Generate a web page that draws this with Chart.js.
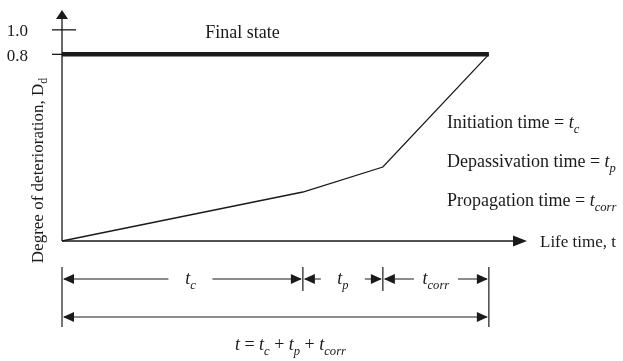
<!DOCTYPE html>
<html lang="en">
<head>
    <meta charset="UTF-8">
    <title>Degree of deterioration vs life time</title>
    <script src="https://cdn.jsdelivr.net/npm/chart.js"></script>
    <style>
        body { margin: 0; background: #fff; }
        canvas { display: block; }
    </style>
</head>
<body>
    <canvas id="life-chart" width="623" height="361"></canvas>

    <script>
        // values (x in arbitrary time units, axis tip = 100)
        const lifeTime = [0, 51.8, 69.0, 91.8];
        const degradation = [0, 0.21, 0.317, 0.8];
        const finalStateLevel = 0.8;
        const phaseBounds = [0, 51.8, 69.0, 91.8];   // t_c | t_p | t_corr
        const phaseSubs = ['c', 'p', 'corr'];
        const yTickValues = [0.8, 0.905];
        const yTickLabels = ['0.8', '1.0'];
        const legendLines = [
            ['Initiation time = ', 'c'],
            ['Depassivation time = ', 'p'],
            ['Propagation time = ', 'corr']
        ];

        const FONT = '"Liberation Serif", "DejaVu Serif", serif';
        const INK = '#1a1a1a';

        // draw text made of pieces: {s, italic, sub}
        function richText(ctx, parts, x, y, size, align) {
            let w = 0;
            parts.forEach(p => {
                ctx.font = (p.italic ? 'italic ' : '') + (p.sub ? size * 0.7 : size) + 'px ' + FONT;
                p.w = ctx.measureText(p.s).width;
                w += p.w;
            });
            let cx = align === 'center' ? x - w / 2 : x;
            ctx.textAlign = 'left';
            ctx.textBaseline = 'alphabetic';
            parts.forEach(p => {
                ctx.font = (p.italic ? 'italic ' : '') + (p.sub ? size * 0.7 : size) + 'px ' + FONT;
                ctx.fillText(p.s, cx, y + (p.sub ? size * 0.25 : 0));
                cx += p.w;
            });
        }

        function tSub(sub) {
            return [{ s: 't', italic: true }, { s: sub, italic: true, sub: true }];
        }

        function arrowHead(ctx, x, y, dir, len, half) {
            // dir: 'l','r','u'
            ctx.beginPath();
            if (dir === 'r') { ctx.moveTo(x, y); ctx.lineTo(x - len, y - half); ctx.lineTo(x - len, y + half); }
            if (dir === 'l') { ctx.moveTo(x, y); ctx.lineTo(x + len, y - half); ctx.lineTo(x + len, y + half); }
            if (dir === 'u') { ctx.moveTo(x, y); ctx.lineTo(x - half, y + len); ctx.lineTo(x + half, y + len); }
            ctx.closePath();
            ctx.fill();
        }

        const schematic = {
            id: 'schematic',
            afterDatasetsDraw(chart) {
                const ctx = chart.ctx;
                const xs = chart.scales.x, ys = chart.scales.y;
                const area = chart.chartArea;
                const x0 = xs.getPixelForValue(0), y0 = ys.getPixelForValue(0);
                ctx.save();
                ctx.strokeStyle = INK;
                ctx.fillStyle = INK;
                ctx.lineWidth = 1.3;

                // axes with arrows
                ctx.beginPath();
                ctx.moveTo(x0, y0); ctx.lineTo(x0, area.top + 6);
                ctx.moveTo(x0, y0); ctx.lineTo(area.right - 6, y0);
                ctx.stroke();
                arrowHead(ctx, x0, area.top, 'u', 9, 6);
                arrowHead(ctx, area.right, y0, 'r', 14, 5.5);

                // y ticks and labels
                yTickValues.forEach((v, i) => {
                    const py = ys.getPixelForValue(v);
                    ctx.beginPath();
                    ctx.moveTo(x0 - 10, py);
                    ctx.lineTo(i === 0 ? x0 : x0 + 14, py);
                    ctx.stroke();
                    ctx.font = '17px ' + FONT;
                    ctx.textAlign = 'right';
                    ctx.textBaseline = 'middle';
                    ctx.fillText(yTickLabels[i], 28, py + 2);
                });

                // y axis title
                ctx.save();
                ctx.translate(43, (area.top + y0) / 2 + 45);
                ctx.rotate(-Math.PI / 2);
                richText(ctx, [{ s: 'Degree of deterioration, D' }, { s: 'd', sub: true }], 0, 0, 17, 'center');
                ctx.restore();

                // labels
                richText(ctx, [{ s: 'Final state' }], xs.getPixelForValue(30.8), 38, 18, 'left');
                legendLines.forEach((l, i) => {
                    richText(ctx, [{ s: l[0] }].concat(tSub(l[1])), 447, 128 + i * 39, 18, 'left');
                });
                richText(ctx, [{ s: 'Life time, t' }], area.right + 13, y0 + 6, 17, 'left');

                // dimension lines below the axis
                const row1 = y0 + 38, row2 = y0 + 76;
                const bx = phaseBounds.map(v => xs.getPixelForValue(v));
                const last = bx.length - 1;
                ctx.lineWidth = 1.2;
                bx.forEach((px, i) => {
                    const full = i === 0 || i === last;
                    ctx.beginPath();
                    ctx.moveTo(px, row1 - 12);
                    ctx.lineTo(px, full ? row2 + 10 : row1 + 12);
                    ctx.stroke();
                });
                for (let i = 0; i < last; i++) {
                    const a = bx[i], b = bx[i + 1];
                    const mid = i === 0 ? (a + b) / 2 + 8 : (a + b) / 2;
                    const gap = 22;
                    ctx.beginPath();
                    ctx.moveTo(a + 2, row1); ctx.lineTo(mid - gap, row1);
                    ctx.moveTo(mid + gap, row1); ctx.lineTo(b - 2, row1);
                    ctx.stroke();
                    arrowHead(ctx, a + 1, row1, 'l', 11, 5);
                    arrowHead(ctx, b - 1, row1, 'r', 11, 5);
                    richText(ctx, tSub(phaseSubs[i]), mid, row1 + 5, 18, 'center');
                }
                ctx.beginPath();
                ctx.moveTo(bx[0] + 2, row2); ctx.lineTo(bx[last] - 2, row2);
                ctx.stroke();
                arrowHead(ctx, bx[0] + 1, row2, 'l', 11, 5);
                arrowHead(ctx, bx[last] - 1, row2, 'r', 11, 5);

                const formula = [{ s: 't', italic: true }, { s: ' = ' }]
                    .concat(tSub('c'), [{ s: ' + ' }], tSub('p'), [{ s: ' + ' }], tSub('corr'));
                richText(ctx, formula, (bx[0] + bx[last]) / 2 + 15, y0 + 109, 18, 'center');

                ctx.restore();
            }
        };

        new Chart(document.getElementById('life-chart'), {
            type: 'scatter',
            data: {
                datasets: [
                    {
                        label: 'Final state',
                        data: [{ x: 0, y: finalStateLevel }, { x: lifeTime[lifeTime.length - 1], y: finalStateLevel }],
                        showLine: true,
                        borderColor: INK,
                        borderWidth: 4.5,
                        pointRadius: 0,
                        clip: false
                    },
                    {
                        label: 'Degree of deterioration',
                        data: lifeTime.map((t, i) => ({ x: t, y: degradation[i] })),
                        showLine: true,
                        borderColor: INK,
                        borderWidth: 1.3,
                        pointRadius: 0,
                        clip: false
                    }
                ]
            },
            options: {
                responsive: false,
                animation: false,
                layout: { padding: { left: 62, right: 96, top: 10, bottom: 120 } },
                scales: {
                    x: { type: 'linear', min: 0, max: 100, display: false },
                    y: { type: 'linear', min: 0, max: 0.99, display: false }
                },
                plugins: {
                    legend: { display: false },
                    tooltip: { enabled: false }
                }
            },
            plugins: [schematic]
        });
    </script>
</body>
</html>
